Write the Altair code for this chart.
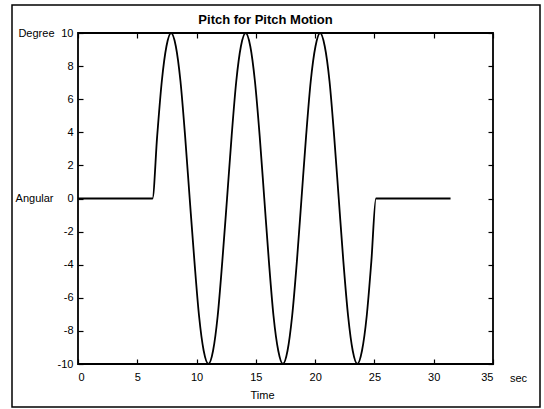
import altair as alt
import pandas as pd

# Time (sec) and pitch angle (degree)
time_s = [0.0, 6.28,
          6.68, 7.07, 7.46, 7.85, 8.25, 8.64, 9.03, 9.42,
          9.82, 10.21, 10.60, 11.00, 11.39, 11.78, 12.17, 12.57,
          12.96, 13.35, 13.74, 14.14, 14.53, 14.92, 15.32, 15.71,
          16.10, 16.49, 16.89, 17.28, 17.67, 18.06, 18.46, 18.85,
          19.24, 19.63, 20.03, 20.42, 20.81, 21.21, 21.60, 21.99,
          22.38, 22.78, 23.17, 23.56, 23.95, 24.35, 24.74, 25.13,
          31.42]
pitch_deg = [0.0, 0.0,
             3.8, 7.1, 9.2, 10.0, 9.2, 7.1, 3.8, 0.0,
             -3.8, -7.1, -9.2, -10.0, -9.2, -7.1, -3.8, 0.0,
             3.8, 7.1, 9.2, 10.0, 9.2, 7.1, 3.8, 0.0,
             -3.8, -7.1, -9.2, -10.0, -9.2, -7.1, -3.8, 0.0,
             3.8, 7.1, 9.2, 10.0, 9.2, 7.1, 3.8, 0.0,
             -3.8, -7.1, -9.2, -10.0, -9.2, -7.1, -3.8, 0.0,
             0.0]
x_ticks = [0, 5, 10, 15, 20, 25, 30, 35]
y_ticks = [-10, -8, -6, -4, -2, 0, 2, 4, 6, 8, 10]

title_text = "Pitch for Pitch Motion"
x_title = "Time"
x_unit = "sec"
y_title = "Degree"
y_mid_label = "Angular"

W, H = 415, 331
FONT = "Liberation Sans"

df = pd.DataFrame({"t": time_s, "p": pitch_deg})

xs = alt.Scale(domain=[0, 35], nice=False, zero=False)
ys = alt.Scale(domain=[-10, 10], nice=False, zero=False)

common_ax = dict(grid=False, labelFont=FONT, labelFontSize=11, labelColor="black",
                 titleFont=FONT, titleFontSize=11, titleColor="black",
                 titleFontWeight="normal", tickColor="black", tickWidth=1.2)
hyphen = "replace(datum.label, '\u2212', '-')"

# Layer A: curve + labels
line = alt.Chart(df).mark_line(color="black", strokeWidth=1.8, interpolate="monotone").encode(
    x=alt.X("t:Q", scale=xs, axis=alt.Axis(
        values=x_ticks, orient="bottom", ticks=False, domain=False, labelPadding=7,
        title=x_title, titleX=184, titleY=31, titleAlign="center", titleBaseline="middle",
        **common_ax)),
    y=alt.Y("p:Q", scale=ys, axis=alt.Axis(
        values=y_ticks, orient="left", ticks=False, domain=False, labelPadding=5,
        labelExpr=hyphen,
        title=y_title, titleAngle=0, titleX=-24, titleY=0, titleAlign="right",
        titleBaseline="middle", **common_ax)),
)

# Layer B: inward ticks on bottom / left, plus "sec" and "Angular"
ticks_bl = alt.Chart(df).mark_line(opacity=0).encode(
    x=alt.X("t:Q", scale=xs, axis=alt.Axis(
        values=x_ticks, orient="top", offset=-H, labels=False, domain=False,
        ticks=True, tickSize=5, title=x_unit, titleX=W + 25, titleY=14,
        titleAlign="center", titleBaseline="middle", **common_ax)),
    y=alt.Y("p:Q", scale=ys, axis=alt.Axis(
        values=y_ticks, orient="right", offset=-W, labels=False, domain=False,
        ticks=True, tickSize=5, title=y_mid_label, titleAngle=0, titleX=-25,
        titleY=H / 2, titleAlign="right", titleBaseline="middle", **common_ax)),
)

# Layer C: inward ticks on top / right, plus the chart title
tr_ax = dict(common_ax)
tr_ax.update(titleFontSize=13, titleFontWeight="bold")
ticks_tr = alt.Chart(df).mark_line(opacity=0).encode(
    x=alt.X("t:Q", scale=xs, axis=alt.Axis(
        values=x_ticks, orient="bottom", offset=-H, labels=False, domain=False,
        ticks=True, tickSize=5, title=title_text, titleX=187, titleY=-14,
        titleAlign="center", titleBaseline="middle", **tr_ax)),
    y=alt.Y("p:Q", scale=ys, axis=alt.Axis(
        values=y_ticks, orient="left", offset=-W, labels=False, domain=False,
        ticks=True, tickSize=5, title=None, **common_ax)),
)

# Outer figure border
border = alt.Chart(pd.DataFrame({"a": [0]})).mark_rect(
    filled=False, stroke="black", strokeWidth=1.5
).encode(x=alt.value(-66), x2=alt.value(462), y=alt.value(-28), y2=alt.value(374))

chart = alt.layer(line, ticks_bl, ticks_tr, border).resolve_axis(
    x="independent", y="independent"
).properties(
    width=W, height=H,
    autosize=alt.AutoSizeParams(type="none"),
    padding={"left": 78, "top": 33, "right": 51, "bottom": 45},
    background="white",
).configure_view(stroke="black", strokeWidth=1.8)

chart.save("out.html", embed_options={"renderer": "svg", "actions": False})
